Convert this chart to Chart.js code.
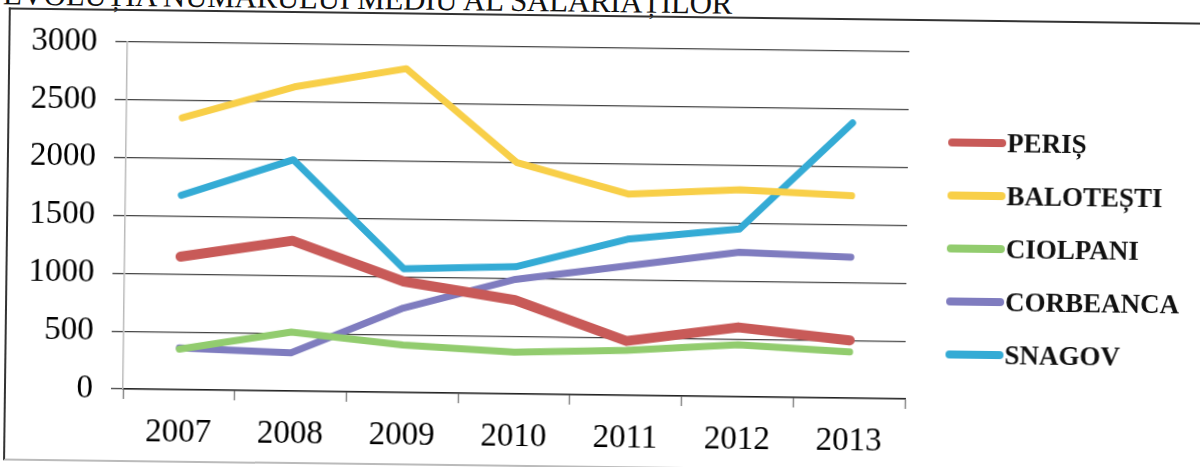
<!DOCTYPE html>
<html>
<head>
<meta charset="utf-8">
<script src="https://cdn.jsdelivr.net/npm/chart.js@4.4.1/dist/chart.umd.min.js"></script>
<style>
    body { margin: 0; background: #fff; overflow: hidden; }
    #wrap { position: absolute; left: 0; top: 0; width: 1200px; height: 467px; transform: rotate(0.73deg); transform-origin: 600px 233px; }
    #title { position: absolute; left: 0; top: -16px; font: 31px 'Liberation Serif', serif; color: #111; white-space: nowrap; letter-spacing: -0.3px; }
    #frame { position: absolute; left: 6px; top: 15px; width: 1300px; height: 449px; border-left: 2px solid #333; border-top: 2px solid #333; border-bottom: 2px solid #bbb; }
    #chart { position: absolute; left: 0; top: 0; }
</style>
</head>
<body>
<div id="wrap">
    <div id="title">EVOLUȚIA NUMĂRULUI MEDIU AL SALARIAȚILOR</div>
    <div id="frame"></div>
    <canvas id="chart" width="1200" height="467"></canvas>
</div>
<script>
const years = ['2007', '2008', '2009', '2010', '2011', '2012', '2013'];
const seriesNames = ['PERIȘ', 'BALOTEȘTI', 'CIOLPANI', 'CORBEANCA', 'SNAGOV'];
const peris = [1150, 1300, 960, 810, 470, 600, 500];
const balotesti = [2350, 2630, 2800, 2000, 1740, 1790, 1750];
const ciolpani = [350, 510, 410, 360, 390, 450, 400];
const corbeanca = [360, 330, 730, 990, 1120, 1250, 1220];
const snagov = [1680, 2000, 1070, 1100, 1350, 1450, 2380];
const yTicks = [0, 500, 1000, 1500, 2000, 2500, 3000];

const colors = ['#c85a58', '#f8cf48', '#92cc6e', '#7f7cbf', '#34abd5'];
const widths = [10, 7, 7, 7, 7];
const allValues = [peris, balotesti, ciolpani, corbeanca, snagov];

// legend drawn at the right, like the original Excel chart
const sideLegend = {
    id: 'sideLegend',
    afterDraw(chart) {
        const c = chart.ctx;
        c.save();
        c.font = 'bold 27px "Liberation Serif", serif';
        c.textBaseline = 'middle';
        chart.data.datasets.forEach((ds, i) => {
            const y = 138 + i * 53;
            c.strokeStyle = ds.borderColor;
            c.lineWidth = 8;
            c.lineCap = 'round';
            c.beginPath();
            c.moveTo(951, y);
            c.lineTo(1001, y);
            c.stroke();
            c.fillStyle = '#111';
            c.fillText(ds.label, 1006, y + 2);
        });
        c.restore();
    }
};

new Chart(document.getElementById('chart'), {
    type: 'line',
    data: {
        labels: years,
        datasets: seriesNames.map((name, i) => ({
            label: name,
            data: allValues[i],
            borderColor: colors[i],
            backgroundColor: colors[i],
            borderWidth: widths[i],
            pointRadius: 0,
            tension: 0,
            borderJoinStyle: 'round',
            borderCapStyle: 'round'
        }))
    },
    options: {
        responsive: false,
        animation: false,
        layout: { padding: { top: 48, right: 293, left: 0, bottom: 0 } },
        plugins: { legend: { display: false }, tooltip: { enabled: false } },
        scales: {
            x: {
                offset: true,
                grid: { display: true, drawOnChartArea: false, offset: true, tickLength: 10, color: '#888', tickWidth: 1.5 },
                border: { display: true, color: '#222', width: 1.5 },
                ticks: { font: { family: 'Liberation Serif', size: 33 }, color: '#000', padding: 14 },
                afterFit(scale) { scale.height = 72; }
            },
            y: {
                min: 0,
                max: 3000,
                afterBuildTicks(scale) { scale.ticks = yTicks.map(v => ({ value: v })); },
                grid: { color: '#444', lineWidth: 1.3, tickLength: 12 },
                border: { display: true, color: '#bbb', width: 1.5 },
                ticks: {
                    font: { family: 'Liberation Serif', size: 33 },
                    color: '#000',
                    padding: 18,
                    callback: v => String(v)
                },
                afterFit(scale) { scale.width = 125; }
            }
        }
    },
    plugins: [sideLegend]
});
</script>
</body>
</html>
